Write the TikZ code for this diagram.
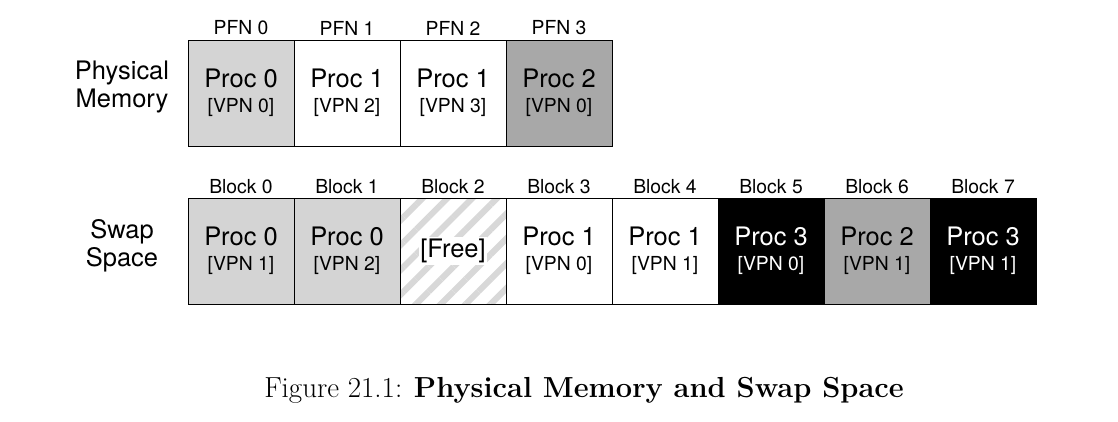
\documentclass[tikz,border=0pt]{standalone}
\usepackage{fontspec}
\setsansfont{TeX Gyre Heros}
\usepackage{tikz}
\usetikzlibrary{patterns.meta}
\definecolor{lightfill}{HTML}{D4D4D4}
\definecolor{darkfill}{HTML}{A8A8A8}
\definecolor{stripe}{HTML}{D8D8D8}
\tikzstyle{cell} = [rectangle, minimum width=2.12cm, minimum height=2.12cm, draw=black, align=center, font=\sffamily\fontsize{14.5}{16}\selectfont, inner sep=0pt]
\tikzstyle{head} = [font=\sffamily\fontsize{11}{12}\selectfont]
\tikzstyle{side} = [align=center, font=\sffamily\fontsize{14.5}{16}\selectfont]
\newcommand{\vpn}[1]{\\[-2pt]{\fontsize{11}{12}\selectfont[VPN #1]}}

\begin{document}
\begin{tikzpicture}[x=0.02cm, y=-0.02cm]
	\useasboundingbox (0,0) rectangle (1118,422);
	% physical memory
	\node (physlabel) [side] at (122,87) {Physical\\Memory};
	\node (pfn0) [cell, fill=lightfill] at (241,93) {Proc 0\vpn{0}};
	\node (pfn1) [cell] at (347,93) {Proc 1\vpn{2}};
	\node (pfn2) [cell] at (453,93) {Proc 1\vpn{3}};
	\node (pfn3) [cell, fill=darkfill] at (559,93) {Proc 2\vpn{0}};
	\foreach \i in {0,...,3}
		\node (pfnhead\i) [head] at (241+106*\i,28) {PFN \i};
	% swap space
	\node (swaplabel) [side] at (122,246) {Swap\\Space};
	\node (blk0) [cell, fill=lightfill] at (241,251) {Proc 0\vpn{1}};
	\node (blk1) [cell, fill=lightfill] at (347,251) {Proc 0\vpn{2}};
	\node (blk2) [cell, pattern={Lines[angle=45,distance=10pt,line width=3.5pt]}, pattern color=stripe] at (453,251) {};
	\node (free) [fill=white, inner sep=1pt, font=\sffamily\fontsize{14.5}{16}\selectfont] at (blk2) {[Free]};
	\node (blk3) [cell] at (559,251) {Proc 1\vpn{0}};
	\node (blk4) [cell] at (665,251) {Proc 1\vpn{1}};
	\node (blk5) [cell, fill=black, text=white] at (771,251) {Proc 3\vpn{0}};
	\node (blk6) [cell, fill=darkfill] at (877,251) {Proc 2\vpn{1}};
	\node (blk7) [cell, fill=black, text=white] at (983,251) {Proc 3\vpn{1}};
	\foreach \i in {0,...,7}
		\node (blkhead\i) [head] at (241+106*\i,187) {Block \i};
	% caption
	\node (caption) [font=\fontsize{16.5}{18}\selectfont] at (584,390) {Figure 21.1: \textbf{Physical Memory and Swap Space}};
\end{tikzpicture}
\end{document}
